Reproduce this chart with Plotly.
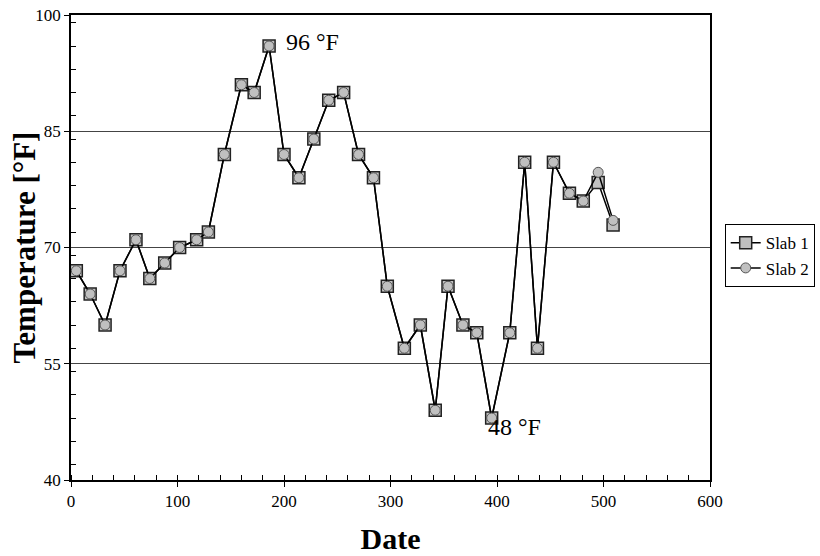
import plotly.graph_objects as go

dates = [5, 18, 32, 46, 61, 74, 88, 102, 118, 129, 144, 160, 172, 186, 200, 214, 228,
         242, 256, 270, 284, 297, 313, 328, 342, 354, 368, 381, 395, 412, 426, 438,
         453, 468, 481, 495, 509]
common = [67, 64, 60, 67, 71, 66, 68, 70, 71, 72, 82, 91, 90, 96, 82, 79, 84, 89, 90,
          82, 79, 65, 57, 60, 49, 65, 60, 59, 48, 59, 81, 57, 81, 77, 76]
slab1 = common + [78.4, 72.9]
slab2 = common + [79.7, 73.5]

FONT = "Liberation Serif, Times New Roman, serif"

fig = go.Figure()
fig.add_trace(go.Scatter(
    x=dates, y=slab1, name="Slab 1", mode="lines+markers",
    line=dict(color="black", width=1.5),
    marker=dict(symbol="square", size=12, color="#c0c0c0",
                line=dict(color="#222222", width=1.5)),
))
fig.add_trace(go.Scatter(
    x=dates, y=slab2, name="Slab 2", mode="lines+markers",
    line=dict(color="black", width=1.5),
    marker=dict(symbol="circle", size=10, color="#c0c0c0",
                line=dict(color="#555555", width=1)),
))

fig.add_annotation(x=200, y=96.5, text="96 °F", showarrow=False,
                   xanchor="left", yanchor="middle",
                   font=dict(family=FONT, size=24, color="black"))
fig.add_annotation(x=390, y=46.8, text="48 °F", showarrow=False,
                   xanchor="left", yanchor="middle",
                   font=dict(family=FONT, size=24, color="black"))
# y-axis title
fig.add_annotation(xref="paper", yref="paper", x=-0.072, y=0.5,
                   text="<b>Temperature [°F]</b>", textangle=-90, showarrow=False,
                   xanchor="center", yanchor="middle",
                   font=dict(family=FONT, size=31, color="black"))

fig.update_layout(
    width=820, height=556,
    margin=dict(l=71, r=110, t=15, b=76, autoexpand=False),
    paper_bgcolor="white", plot_bgcolor="white",
    font=dict(family=FONT, size=17, color="black"),
    legend=dict(x=1.023, y=0.55, xanchor="left", yanchor="top",
                bgcolor="white", bordercolor="black", borderwidth=1,
                font=dict(family=FONT, size=17), tracegroupgap=0, itemwidth=30),
    showlegend=True,
)
fig.update_xaxes(
    range=[0, 600], tick0=0, dtick=100, showgrid=False, zeroline=False,
    automargin=False,
    showline=True, linecolor="black", linewidth=1.5, mirror=True,
    ticks="outside", ticklen=5, tickcolor="black", ticklabeloverflow="allow",
    minor=dict(dtick=20, ticks="inside", ticklen=5, tickcolor="black", showgrid=False),
    tickfont=dict(family=FONT, size=17),
    title=dict(text="<b>Date</b>", font=dict(family=FONT, size=30), standoff=18),
)
fig.update_yaxes(
    range=[40, 100], tick0=40, dtick=15, showgrid=True, gridcolor="#444444", gridwidth=1,
    zeroline=False, automargin=False,
    showline=True, linecolor="black", linewidth=1.5, mirror=True,
    ticks="outside", ticklen=5, tickcolor="black", ticklabeloverflow="allow",
    minor=dict(dtick=3, ticks="inside", ticklen=5, tickcolor="black", showgrid=False),
    tickfont=dict(family=FONT, size=17),
)

fig.write_html("out.html", config={"displayModeBar": False},
               post_script="document.body.style.margin='0';")
